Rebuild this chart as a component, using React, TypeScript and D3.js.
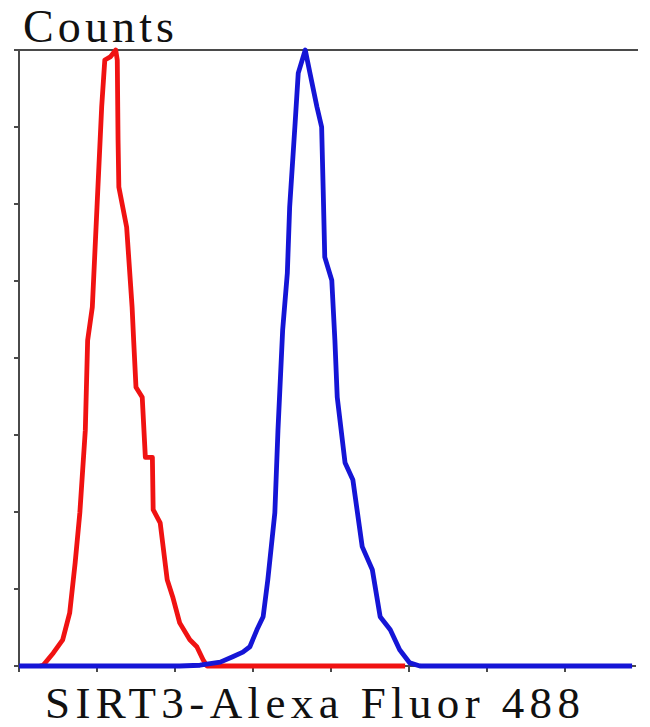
import React from "react";
import * as d3 from "d3";

const xTicks = [0, 100, 200, 300, 400, 500, 600, 700];
const yTicks = [0, 100, 200, 300, 400, 500, 600, 700, 800];

// Control (isotype) histogram - red
const redX = [27, 31, 44, 56, 65, 72, 78, 85, 88, 94, 100, 106, 110, 117, 124, 126, 127, 128, 138, 145, 147, 150, 158, 162, 171, 172, 181, 190, 197, 206, 219, 228, 236, 241, 495];
const redY = [0, 1, 17, 34, 69, 134, 199, 306, 423, 466, 596, 726, 787, 791, 800, 787, 683, 622, 570, 466, 423, 362, 349, 271, 271, 203, 186, 112, 90, 56, 34, 25, 8, 0, 0];

// SIRT3 stained histogram - blue
const blueX = [0, 206, 232, 258, 274, 287, 296, 305, 313, 319, 328, 332, 338, 344, 347, 354, 358, 367, 373, 382, 388, 390, 392, 401, 405, 408, 418, 428, 440, 453, 463, 476, 488, 501, 514, 786];
const blueY = [0, 0, 1, 5, 12, 18, 25, 47, 64, 112, 199, 306, 436, 510, 596, 705, 770, 800, 770, 726, 700, 618, 531, 501, 423, 349, 264, 242, 155, 125, 64, 47, 21, 4, 0, 0];

const yLabel = "Counts";
const xLabel = "SIRT3-Alexa Fluor 488";

export default function App() {
  const W = 650, H = 727;
  const x = d3.scaleLinear().domain([0, 800]).range([19, 643]);
  const y = d3.scaleLinear().domain([0, 800]).range([666, 50]);
  const line = d3.line<[number, number]>().x(d => x(d[0])).y(d => y(d[1]));
  const red = redX.map((v, i) => [v, redY[i]] as [number, number]);
  const blue = blueX.map((v, i) => [v, blueY[i]] as [number, number]);
  const axisColor = "#4a4a4a";
  return (
    <svg width={W} height={H} style={{ position: "absolute", left: 0, top: 0, background: "#fff" }}>
      <rect width={W} height={H} fill="#fff" />
      <line x1={x(0)} x2={638} y1={y(800)} y2={y(800)} stroke={axisColor} strokeWidth={2} />
      <line x1={x(0)} x2={x(0)} y1={y(800)} y2={y(0) + 4} stroke={axisColor} strokeWidth={2} />
      <line x1={x(0)} x2={636} y1={y(0)} y2={y(0)} stroke={axisColor} strokeWidth={2} />
      {yTicks.map(t => (
        <line key={"y" + t} x1={x(0) - 5} x2={x(0)} y1={y(t)} y2={y(t)} stroke={axisColor} strokeWidth={2} />
      ))}
      {xTicks.map(t => (
        <line key={"x" + t} x1={x(t)} x2={x(t)} y1={y(0)} y2={y(0) + 6} stroke={axisColor} strokeWidth={2} />
      ))}
      <path d={line(red) || ""} fill="none" stroke="#f01212" strokeWidth={4.8} strokeLinejoin="round" />
      <path d={line(blue) || ""} fill="none" stroke="#1515d6" strokeWidth={4.8} strokeLinejoin="round" />
      <text x={23} y={42} fontFamily="Liberation Serif, serif" fontSize={46} fill="#111" textLength={151} lengthAdjust="spacing">{yLabel}</text>
      <text x={45} y={718} fontFamily="Liberation Serif, serif" fontSize={45} fill="#111" textLength={535} lengthAdjust="spacing">{xLabel}</text>
    </svg>
  );
}
